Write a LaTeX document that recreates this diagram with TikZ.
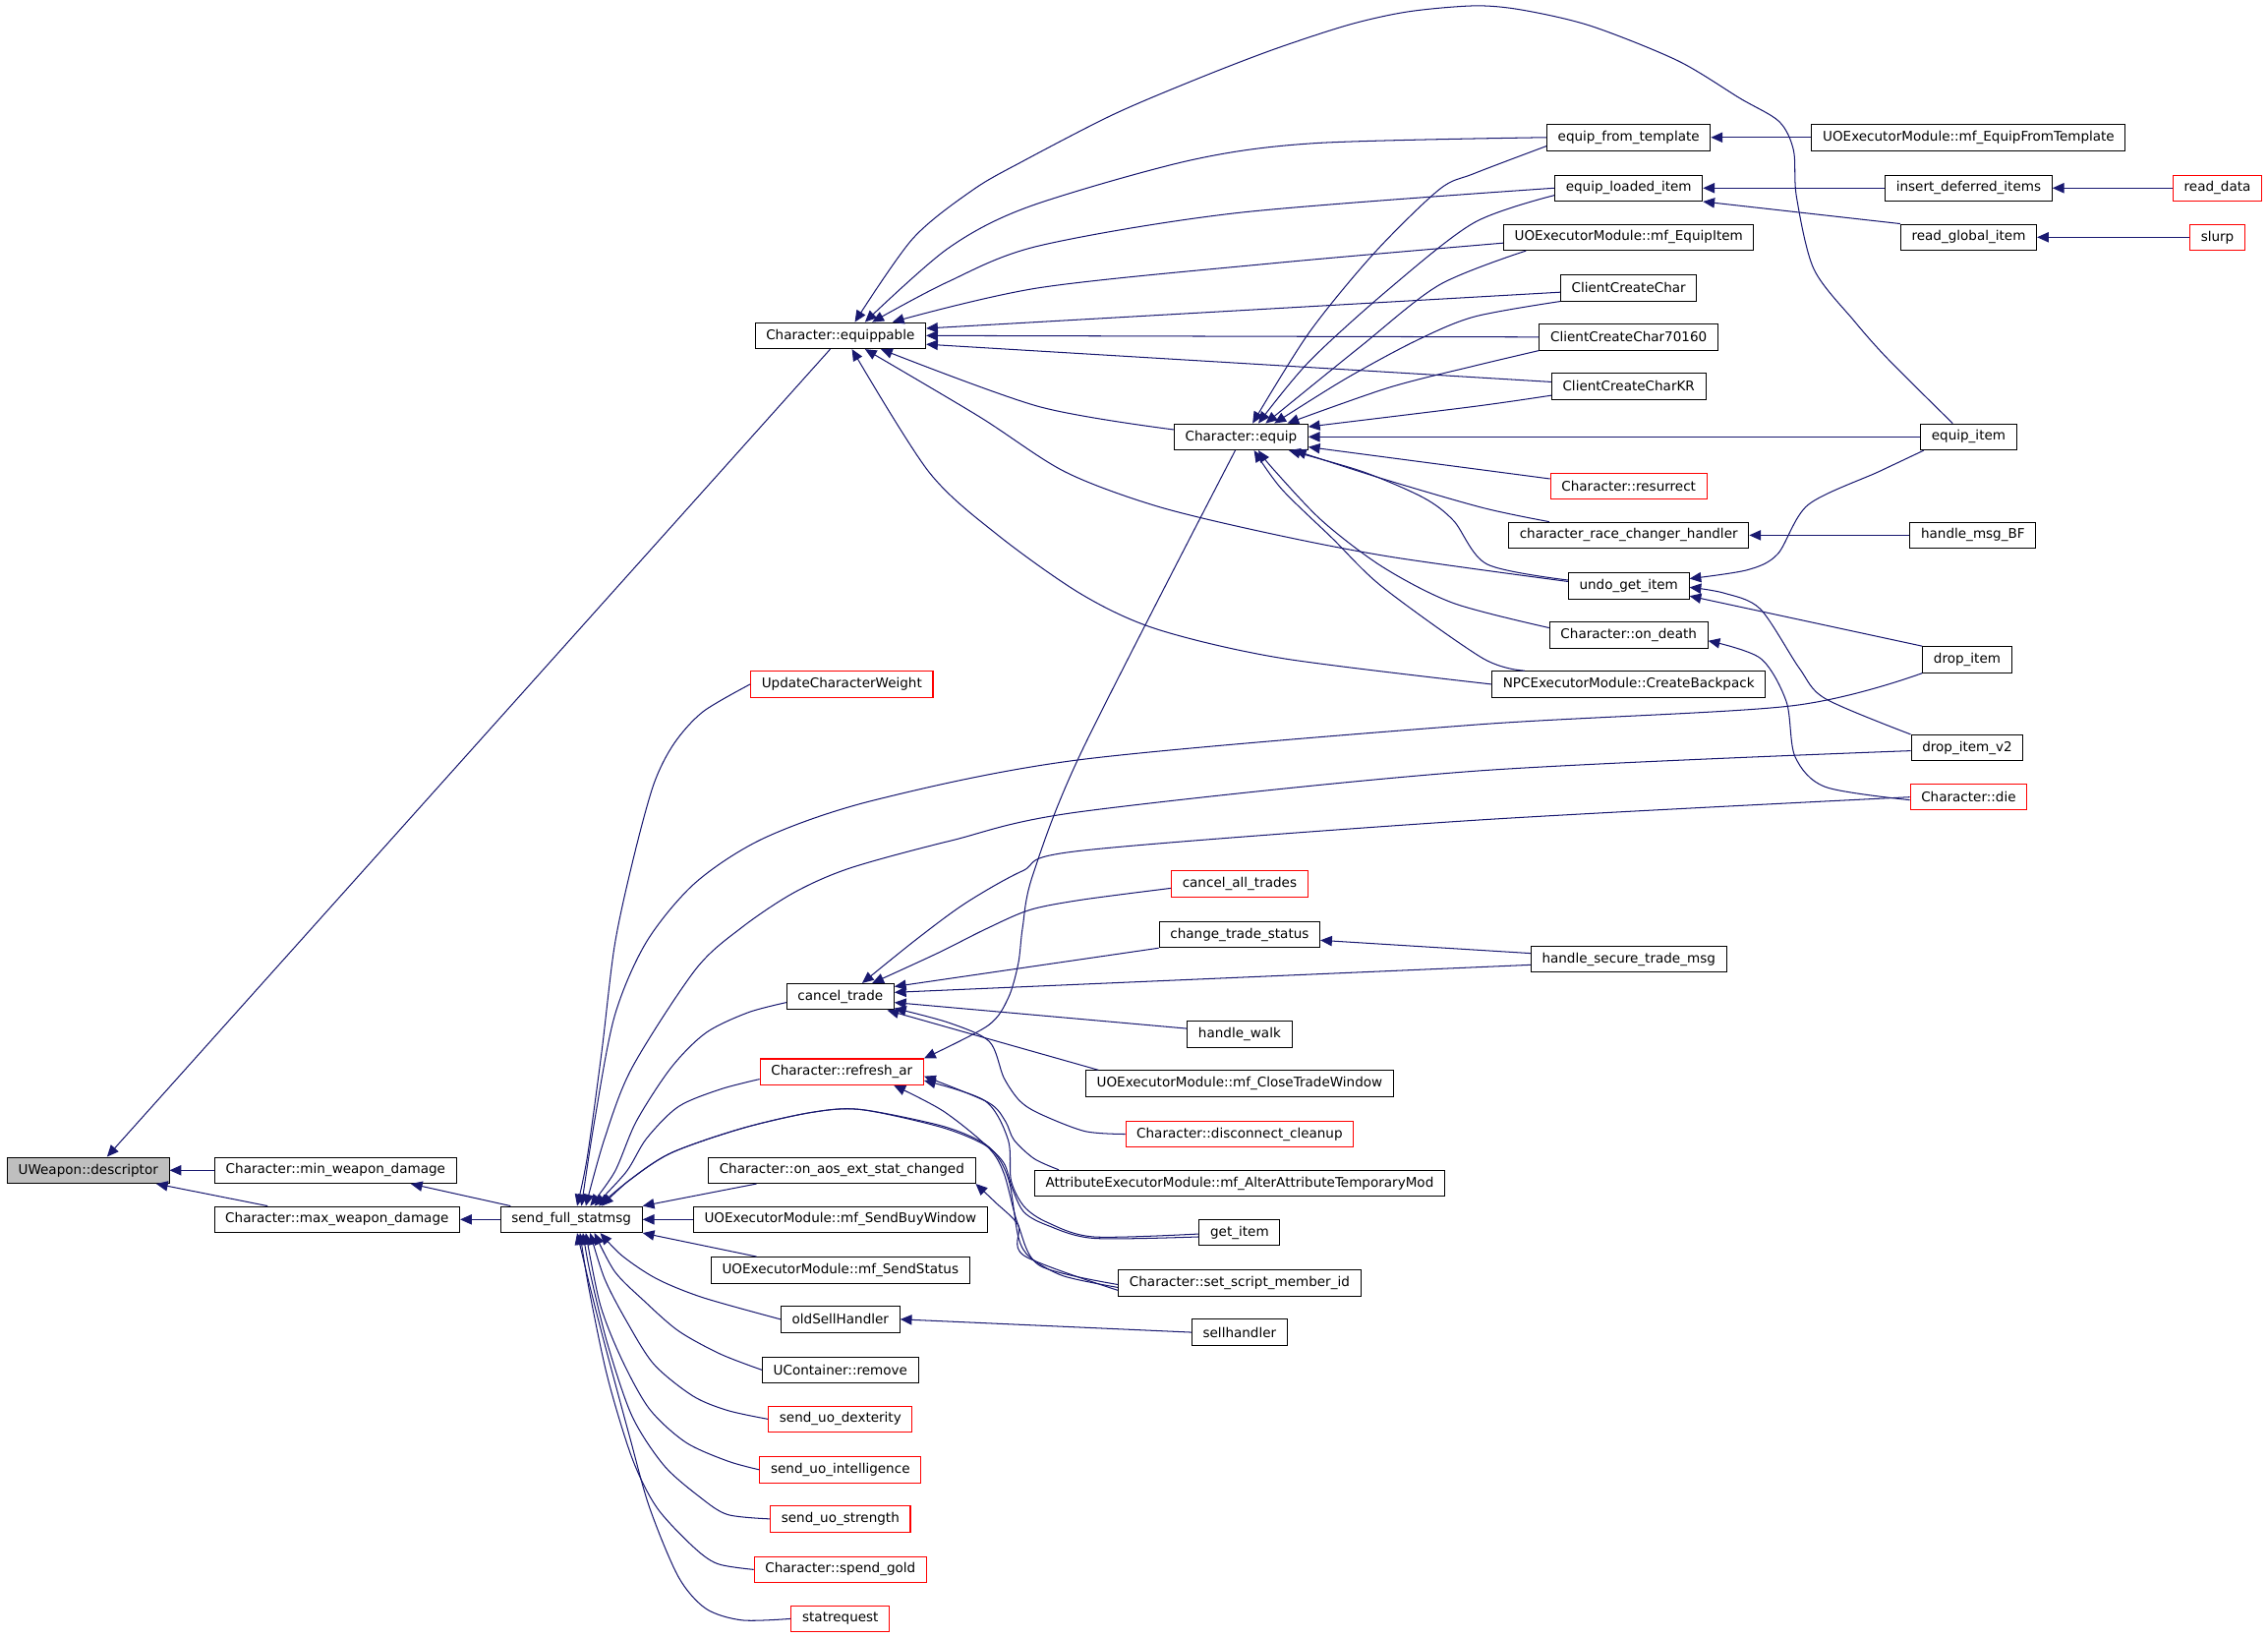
\documentclass[tikz,border=0pt]{standalone}
\usepackage{fontspec}
\setmainfont{DejaVu Sans}
\usetikzlibrary{arrows.meta}
\definecolor{edgeblue}{HTML}{191970}
\definecolor{curgray}{HTML}{BFBFBF}
\begin{document}
\begin{tikzpicture}[x=1pt,y=-1pt]
  \tikzstyle{fn}   =[draw=black, fill=white, line width=0.7pt, minimum height=18pt, inner xsep=7.6pt, inner ysep=0pt, font=\fontsize{9.2}{11}\selectfont]
  \tikzstyle{fnred}=[fn, draw=red]
  \tikzstyle{fncur}=[fn, fill=curgray]
  \tikzstyle{call} =[draw=edgeblue, line width=0.7pt, -{Triangle[length=8pt,width=7pt]}]
  \useasboundingbox (0,0) rectangle (1568,1132);
  \node[fncur](uw) at (61,809) {UWeapon::descriptor};
  \node[fn](minwd) at (232,809) {Character::min\_weapon\_damage};
  \node[fn](maxwd) at (233,843) {Character::max\_weapon\_damage};
  \node[fn](sfs) at (395,843) {send\_full\_statmsg};
  \node[fn](eqp) at (581,232) {Character::equippable};
  \node[fnred](ucw) at (582,473) {UpdateCharacterWeight};
  \node[fn](ct) at (581,689) {cancel\_trade};
  \node[fnred](rar) at (582,741) {Character::refresh\_ar};
  \node[fn](aos) at (582,809) {Character::on\_aos\_ext\_stat\_changed};
  \node[fn](sbw) at (581,843) {UOExecutorModule::mf\_SendBuyWindow};
  \node[fn](sst) at (581,878) {UOExecutorModule::mf\_SendStatus};
  \node[fn](osh) at (581,912) {oldSellHandler};
  \node[fn](ucr) at (581,947) {UContainer::remove};
  \node[fnred](dex) at (581,981) {send\_uo\_dexterity};
  \node[fnred](intl) at (581,1016) {send\_uo\_intelligence};
  \node[fnred](strg) at (581,1050) {send\_uo\_strength};
  \node[fnred](gold) at (581,1085) {Character::spend\_gold};
  \node[fnred](statr) at (581,1119) {statrequest};
  \node[fn](eq) at (858,302) {Character::equip};
  \node[fnred](cat) at (857,611) {cancel\_all\_trades};
  \node[fn](cts) at (857,646) {change\_trade\_status};
  \node[fn](hw) at (857,715) {handle\_walk};
  \node[fn](ctw) at (857,749) {UOExecutorModule::mf\_CloseTradeWindow};
  \node[fnred](dcc) at (857,784) {Character::disconnect\_cleanup};
  \node[fn](aeam) at (857,818) {AttributeExecutorModule::mf\_AlterAttributeTemporaryMod};
  \node[fn](gi) at (857,852) {get\_item};
  \node[fn](ssm) at (857,887) {Character::set\_script\_member\_id};
  \node[fn](sh) at (857,921) {sellhandler};
  \node[fn](eft) at (1126,95) {equip\_from\_template};
  \node[fn](eli) at (1126,130) {equip\_loaded\_item};
  \node[fn](mfei) at (1126,164) {UOExecutorModule::mf\_EquipItem};
  \node[fn](ccc) at (1126,199) {ClientCreateChar};
  \node[fn](ccc7) at (1126,233) {ClientCreateChar70160};
  \node[fn](ccckr) at (1126,267) {ClientCreateCharKR};
  \node[fnred](res) at (1126,336) {Character::resurrect};
  \node[fn](crc) at (1126,370) {character\_race\_changer\_handler};
  \node[fn](ugi) at (1126,405) {undo\_get\_item};
  \node[fn](ond) at (1126,439) {Character::on\_death};
  \node[fn](npc) at (1126,473) {NPCExecutorModule::CreateBackpack};
  \node[fn](hstm) at (1126,663) {handle\_secure\_trade\_msg};
  \node[fn](mfeft) at (1361,95) {UOExecutorModule::mf\_EquipFromTemplate};
  \node[fn](idi) at (1361,130) {insert\_deferred\_items};
  \node[fn](rgi) at (1361,164) {read\_global\_item};
  \node[fn](eit) at (1361,302) {equip\_item};
  \node[fn](hbf) at (1364,370) {handle\_msg\_BF};
  \node[fn](dri) at (1360,456) {drop\_item};
  \node[fn](dri2) at (1360,517) {drop\_item\_v2};
  \node[fnred](die) at (1361,551) {Character::die};
  \node[fnred](rdd) at (1533,130) {read\_data};
  \node[fnred](slurp) at (1533,164) {slurp};
  % callers of UWeapon::descriptor and the damage helpers
  \draw[call] (minwd.west) -- (uw.east);
  \draw[call] ([xshift=-48pt]maxwd.north) -- ([xshift=47pt]uw.south);
  \draw[call] ([xshift=-7pt]eqp.south) -- ([xshift=13pt]uw.north);
  \draw[call] ([xshift=-42pt]sfs.north) -- ([xshift=52pt]minwd.south);
  \draw[call] (sfs.west) -- (maxwd.east);
  % callers of send_full_statmsg
  \draw[call] plot[smooth] coordinates {(ucw.west) (486,492) (466,514) (452,542) (438,593) (425,653) (416,727) (406,800) ([xshift=4pt]sfs.north)};
  \draw[call] plot[smooth] coordinates {(dri.south west) (1238,488) (1020,501) (748,525) (605,553) (529,579) (481,610) (447,651) (425,702) (411,775) ([xshift=7pt]sfs.north)};
  \draw[call] plot[smooth] coordinates {([yshift=-2pt]dri2.west) (1020,533) (748,561) (658,581) (588,600) (549,617) (513,641) (481,670) (437,738) (418,787) ([xshift=10pt]sfs.north)};
  \draw[call] plot[smooth] coordinates {([yshift=-4pt]ct.west) (517,700) (488,714) (464,738) (440,775) (425,810) ([xshift=13pt]sfs.north)};
  \draw[call] plot[smooth] coordinates {([yshift=-5pt]rar.west) (498,753) (469,765) (447,787) (433,810) ([xshift=16pt]sfs.north)};
  \draw[call] plot[smooth] coordinates {([yshift=-3pt]gi.west) (756,856) (724,847) (708,838) (700,822) (694,804) (680,791) (650,779) (595,767) (561,769) (513,780) (464,797) (435,816) ([xshift=19pt]sfs.north)};
  \draw[call] plot[smooth] coordinates {([yshift=-3pt]ssm.west) (735,882) (712,869) (704,855) (698,818) (690,800) (678,789) (650,778) (595,767) (561,769) (513,780) (464,797) (435,816) ([xshift=21pt]sfs.north)};
  \draw[call] ([xshift=-59pt]aos.south) -- (sfs.north east);
  \draw[call] (sbw.west) -- (sfs.east);
  \draw[call] ([xshift=-58pt]sst.north) -- (sfs.south east);
  \draw[call] plot[smooth] coordinates {(osh.west) (486,897) (454,884) (430,868) ([xshift=20pt]sfs.south)};
  \draw[call] plot[smooth] coordinates {(ucr.west) (498,936) (469,920) (445,899) (425,879) ([xshift=16pt]sfs.south)};
  \draw[call] plot[smooth] coordinates {(dex.west) (503,975) (479,965) (452,943) (433,913) (418,884) ([xshift=13pt]sfs.south)};
  \draw[call] plot[smooth] coordinates {(intl.west) (503,1010) (474,997) (449,974) (430,940) (415,902) ([xshift=10pt]sfs.south)};
  \draw[call] plot[smooth] coordinates {(strg.west) (503,1047) (484,1035) (459,1013) (437,979) (420,929) (408,880) ([xshift=8pt]sfs.south)};
  \draw[call] plot[smooth] coordinates {(gold.west) (496,1081) (479,1069) (454,1042) (437,1008) (420,952) (407,890) ([xshift=6pt]sfs.south)};
  \draw[call] plot[smooth] coordinates {(statr.west) (513,1120) (488,1112) (469,1090) (449,1042) (435,992) (418,929) (408,890) ([xshift=4pt]sfs.south)};
  % callers of cancel_trade
  \draw[call] plot[smooth] coordinates {(die.west) (1020,567) (748,588) (707,602) (668,624) (634,649) ([xshift=15pt]ct.north)};
  \draw[call] plot[smooth] coordinates {([yshift=-3pt]cat.west) (748,622) (712,629) (682,642) (648,659) ([xshift=22pt]ct.north)};
  \draw[call] (cts.south west) -- ([yshift=7pt]ct.east);
  \draw[call] ([yshift=-4pt]hstm.west) -- ([yshift=3pt]ct.east);
  \draw[call] ([yshift=4pt]hw.west) -- ([yshift=-4pt]ct.east);
  \draw[call] ([xshift=9pt]ctw.north west) -- ([xshift=-5pt]ct.south east);
  \draw[call] plot[smooth] coordinates {(dcc.west) (750,782) (719,770) (705,761) (694,745) (684,720) (656,707) ([yshift=-8pt]ct.east)};
  % callers of Character::refresh_ar and on_aos_ext_stat_changed
  \draw[call] plot[smooth] coordinates {([xshift=-4pt]eq.south) (748,519) (714,605) (707,641) (704,666) (697,690) (683,709) (rar.north east)};
  \draw[call] plot[smooth] coordinates {([xshift=-125pt]aeam.north) (715,801) (701,788) (695,775) (683,762) ([yshift=-3pt]rar.east)};
  \draw[call] plot[smooth] coordinates {([yshift=-1pt]gi.west) (756,855) (724,845) (708,834) (699,816) (697,788) (681,761) ([yshift=-6pt]rar.east)};
  \draw[call] plot[smooth] coordinates {([yshift=-1pt]ssm.west) (719,875) (704,847) (694,811) (683,793) (652,768) ([xshift=36pt]rar.south)};
  \draw[call] plot[smooth] coordinates {([yshift=-5pt]ssm.west) (708,868) (704,847) (688,831) (aos.south east)};
  \draw[call] (sh.west) -- (osh.east);
  \draw[call] ([yshift=4pt]hstm.west) -- ([yshift=-4pt]cts.east);
  % callers of Character::equippable
  \draw[call] plot[smooth] coordinates {([xshift=-11pt]eit.north) (1306,249) (1282,222) (1254,186) (1242,136) (1240,104) (1230,84) (1203,68) (1160,42) (1100,18) (1053,7) (1020,4) (974,8) (933,17) (881,34) (829,54) (770,79) (708,111) (673,131) (631,165) ([xshift=10pt]eqp.north)};
  \draw[call] plot[smooth] coordinates {(eft.west) (909,99) (822,111) (711,143) (655,172) ([xshift=17pt]eqp.north)};
  \draw[call] plot[smooth] coordinates {(eli.west) (857,147) (718,170) (655,195) ([xshift=22pt]eqp.north)};
  \draw[call] plot[smooth] coordinates {([yshift=-4pt]mfei.west) (880,182) (718,199) ([xshift=36pt]eqp.north)};
  \draw[call] ([yshift=-3pt]ccc.west) -- ([yshift=5pt]eqp.east);
  \draw[call] (ccc7.west) -- (eqp.east);
  \draw[call] ([yshift=3pt]ccckr.west) -- ([yshift=-6pt]eqp.east);
  \draw[call] plot[smooth] coordinates {([yshift=5pt]eq.west) (718,281) ([xshift=28pt]eqp.south)};
  \draw[call] plot[smooth] coordinates {([yshift=3pt]ugi.west) (962,385) (879,369) (800,350) (736,326) (677,288) ([xshift=17pt]eqp.south)};
  \draw[call] plot[smooth] coordinates {(npc.west) (886,455) (800,435) (748,411) (690,370) (642,326) ([xshift=8pt]eqp.south)};
  % callers of Character::equip
  \draw[call] plot[smooth] coordinates {([yshift=-6pt]eft.west) (1019,120) (995,131) (950,175) (905,230) ([xshift=8pt]eq.north)};
  \draw[call] plot[smooth] coordinates {([yshift=-5pt]eli.west) (1019,154) (960,200) (905,250) ([xshift=12pt]eq.north)};
  \draw[call] plot[smooth] coordinates {([xshift=-71pt]mfei.south) (995,197) (940,240) ([xshift=17pt]eq.north)};
  \draw[call] plot[smooth] coordinates {(ccc.south west) (1019,219) (978,236) (930,262) ([xshift=23pt]eq.north)};
  \draw[call] plot[smooth] coordinates {(ccc7.south west) (1019,253) (960,268) ([xshift=32pt]eq.north)};
  \draw[call] plot[smooth] coordinates {([yshift=3pt]ccckr.south west) (1019,281) ([yshift=7pt]eq.east)};
  \draw[call] (eit.west) -- (eq.east);
  \draw[call] ([yshift=5pt]res.west) -- ([yshift=-7pt]eq.east);
  \draw[call] plot[smooth] coordinates {([xshift=-55pt]crc.north) (1025,351) (956,331) ([xshift=37pt]eq.south)};
  \draw[call] plot[smooth] coordinates {([yshift=4pt]ugi.west) (1028,390) (1005,360) (984,344) (942,326) ([xshift=33pt]eq.south)};
  \draw[call] plot[smooth] coordinates {([yshift=5pt]ond.west) (1005,417) (956,392) (914,360) (880,324) ([xshift=12pt]eq.south)};
  \draw[call] plot[smooth] coordinates {([xshift=-72pt]npc.north) (1025,455) (956,406) (921,372) (886,338) ([xshift=9pt]eq.south)};
  % right hand callers
  \draw[call] (mfeft.west) -- (eft.east);
  \draw[call] (idi.west) -- (eli.east);
  \draw[call] (rgi.north west) -- (eli.south east);
  \draw[call] (rdd.west) -- (idi.east);
  \draw[call] (slurp.west) -- (rgi.east);
  \draw[call] (hbf.west) -- (crc.east);
  \draw[call] plot[smooth] coordinates {([xshift=-31pt]eit.south) (1299,326) (1250,349) (1229,383) (1208,394) ([yshift=5pt]ugi.east)};
  \draw[call] plot[smooth] coordinates {(dri2.north west) (1262,483) (1244,462) (1217,421) (1192,410) ([yshift=-1pt]ugi.east)};
  \draw[call] (dri.north west) -- ([yshift=-7pt]ugi.east);
  \draw[call] plot[smooth] coordinates {([yshift=-2pt]die.west) (1262,544) (1241,523) (1235,485) (1217,455) ([yshift=-4pt]ond.east)};
\end{tikzpicture}
\end{document}
